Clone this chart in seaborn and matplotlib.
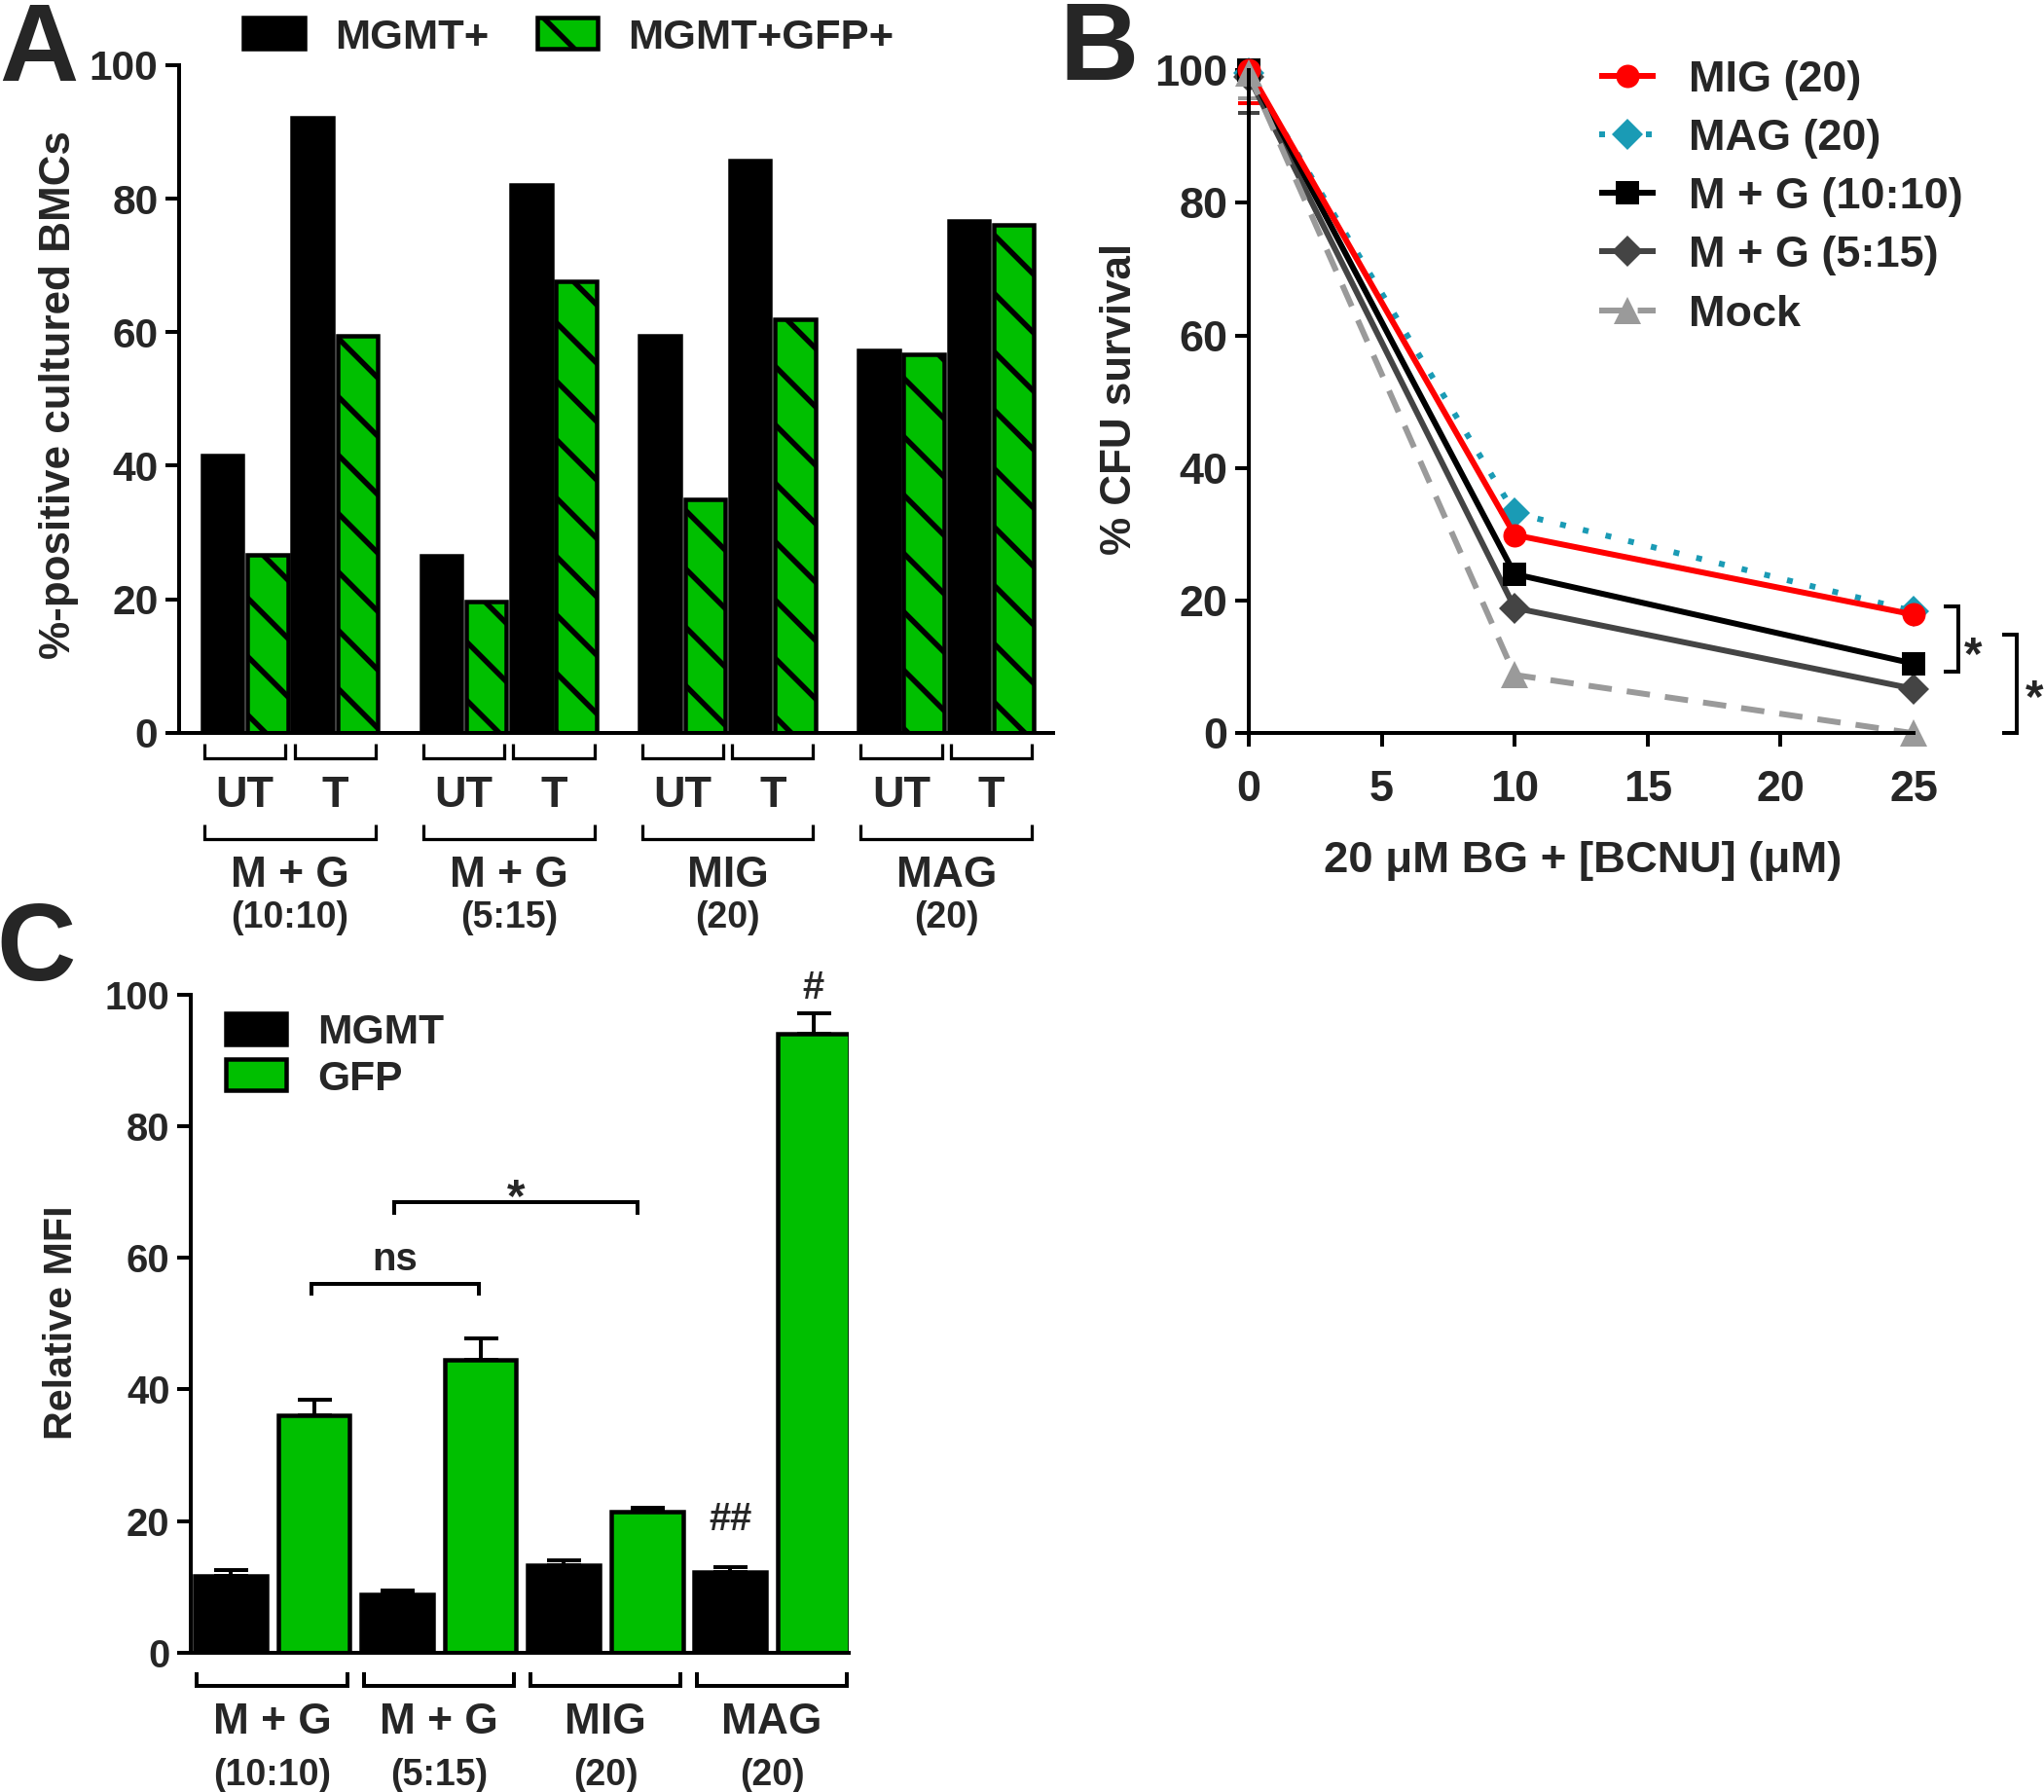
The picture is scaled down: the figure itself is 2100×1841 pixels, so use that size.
import numpy as np
import pandas as pd
import matplotlib
matplotlib.use("Agg")
import matplotlib.pyplot as plt
import seaborn as sns
from matplotlib.patches import Rectangle
from matplotlib.lines import Line2D
from matplotlib.colors import to_rgba
from matplotlib.transforms import blended_transform_factory, offset_copy

# ---------------- data ----------------
# Panel A: %-positive cultured BMCs
a_constructs = ["M + G", "M + G", "MIG", "MAG"]
a_ratios = ["(10:10)", "(5:15)", "(20)", "(20)"]
a_treatments = ["UT", "T"]
a_series = ["MGMT+", "MGMT+GFP+"]
a_mgmt = [41.5, 92.1, 26.5, 82.0, 59.5, 85.7, 57.3, 76.7]
a_mgmt_gfp = [26.6, 59.5, 19.7, 67.6, 35.0, 61.9, 56.7, 76.1]
a_yticks = [0, 20, 40, 60, 80, 100]

# Panel B: % CFU survival
b_dose = [0, 10, 25]
b_series = ["MIG (20)", "MAG (20)", "M + G (10:10)", "M + G (5:15)", "Mock"]
b_mig = [100.0, 29.9, 17.9]
b_mag = [99.5, 33.2, 18.4]
b_mg1010 = [100.0, 24.0, 10.5]
b_mg515 = [99.0, 18.9, 6.7]
b_mock = [99.5, 8.8, 0.0]
b_err_dose0 = [5.0, 0.0, 0.0, 5.5, 3.7]   # lower error at dose 0, same order as b_series
b_xticks = [0, 5, 10, 15, 20, 25]
b_yticks = [0, 20, 40, 60, 80, 100]

# Panel C: relative MFI
c_constructs = ["M + G", "M + G", "MIG", "MAG"]
c_ratios = ["(10:10)", "(5:15)", "(20)", "(20)"]
c_series = ["MGMT", "GFP"]
c_mgmt = [11.7, 8.8, 13.3, 12.2]
c_mgmt_err = [0.9, 0.6, 0.7, 0.8]
c_gfp = [36.1, 44.5, 21.4, 94.1]
c_gfp_err = [2.3, 3.3, 0.7, 3.0]
c_yticks = [0, 20, 40, 60, 80, 100]

# ---------------- style ----------------
BLACK = "#000000"
GREEN = "#00BF00"
TEAL = "#1A9BB5"
RED = "#FF0000"
DGRAY = "#444444"
LGRAY = "#9A9A9A"

sns.set_style("ticks")
plt.rcParams['font.family'] = ['Liberation Sans', 'DejaVu Sans']
plt.rcParams['font.weight'] = 'bold'
plt.rcParams['axes.labelweight'] = 'bold'
plt.rcParams['hatch.linewidth'] = 2.2
plt.rcParams['hatch.color'] = 'black'
plt.rcParams['axes.linewidth'] = 1.6

W, H, DPI = 2100, 1841, 180
PT = DPI / 72.0
fig = plt.figure(figsize=(W / DPI, H / DPI), dpi=DPI)
fig.patch.set_facecolor("white")


def add_ax(l, t, r, b):
    return fig.add_axes([l / W, 1 - b / H, (r - l) / W, (b - t) / H])


def ftext(x, yc, s, size, ha='left', cap=0.358, **kw):
    fig.text(x / W, 1 - (yc + cap * size * PT) / H, s, fontsize=size, ha=ha,
             va='baseline', fontweight='bold', **kw)


def vlabel(x, y, s, size):
    fig.text(x / W, 1 - y / H, s, fontsize=size, rotation=90, ha='center',
             va='center', fontweight='bold')


def style_axes(ax, size):
    for s in ['top', 'right']:
        ax.spines[s].set_visible(False)
    for s in ['left', 'bottom']:
        ax.spines[s].set_linewidth(1.6)
        ax.spines[s].set_color('black')
    ax.tick_params(axis='both', direction='out', length=5.6, width=1.6,
                   color='black', labelsize=size, pad=3)
    ax.set_facecolor('none')


def ctext(ax, tr, x, y, s, size, cap=0.358):
    t = offset_copy(tr, fig=fig, x=0, y=-cap * size, units='points')
    ax.text(x, y, s, transform=t, fontsize=size, ha='center', va='baseline',
            fontweight='bold', clip_on=False)


def bracket_down(ax, tr, x0, x1, ybot, ytop, lw):
    ax.plot([x0, x0, x1, x1], [ytop, ybot, ybot, ytop], transform=tr, color='k',
            lw=lw, clip_on=False, solid_joinstyle='miter', solid_capstyle='butt')


def bars_of(ax, color):
    crgb = np.array(to_rgba(color)[:3])
    return sorted([p for p in ax.patches
                   if np.allclose(np.array(p.get_facecolor()[:3]), crgb, atol=0.03)],
                  key=lambda p: p.get_x())


# ================= Panel A =================
axA = add_ax(184, 67, 1082, 752.7)
G = 2.43
pair_pos = [g * G + t for g in range(4) for t in range(2)]
dfA = pd.DataFrame({
    "pos": pair_pos * 2,
    "value": a_mgmt + a_mgmt_gfp,
    "series": [a_series[0]] * 8 + [a_series[1]] * 8,
})
sns.barplot(data=dfA, x="pos", y="value", hue="series", hue_order=a_series,
            palette=[BLACK, GREEN], saturation=1, native_scale=True, width=1.0, gap=0.1,
            edgecolor='black', linewidth=1.8, errorbar=None, legend=False, ax=axA)
for p in bars_of(axA, GREEN):
    p.set_hatch('\\')
axA.set_xlim(-0.732, 8.976)
axA.set_ylim(0, 100)
axA.set_yticks(a_yticks)
axA.set_xticks([])
axA.set_xlabel("")
axA.set_ylabel("")
style_axes(axA, 17)
trA = blended_transform_factory(axA.transData, axA.transAxes)
for g in range(4):
    for t in range(2):
        c = g * G + t
        bracket_down(axA, trA, c - 0.45, c + 0.45, -0.0384, -0.0165, 1.3)
        ctext(axA, trA, c, -0.0875, a_treatments[t], 18)
    gc = g * G + 0.5
    bracket_down(axA, trA, g * G - 0.45, g * G + 1.45, -0.159, -0.137, 1.3)
    ctext(axA, trA, gc, -0.2075, a_constructs[g], 17.7)
    ctext(axA, trA, gc, -0.273, a_ratios[g], 15)

vlabel(61, 406, "%-positive cultured BMCs", 17.6)
# legend A
fig.add_artist(Rectangle((250 / W, 1 - 50 / H), 63 / W, 32 / H, transform=fig.transFigure,
                         facecolor=BLACK, edgecolor='black', lw=1.8))
fig.add_artist(Rectangle((552 / W, 1 - 50 / H), 62 / W, 32 / H, transform=fig.transFigure,
                         facecolor=GREEN, edgecolor='black', lw=1.8, hatch='\\'))
ftext(344, 34, a_series[0], 17.4)
ftext(645, 34, a_series[1], 17.4)

# ================= Panel B =================
axB = add_ax(1283, 72, 1966, 753.3)
b_values = dict(zip(b_series, [b_mig, b_mag, b_mg1010, b_mg515, b_mock]))
b_err = dict(zip(b_series, b_err_dose0))
b_styles = {
    "MIG (20)": dict(color=RED, marker='o', ms=9.6, ls='-'),
    "MAG (20)": dict(color=TEAL, marker='D', ms=9.2, ls=(0, (1, 3))),
    "M + G (10:10)": dict(color=BLACK, marker='s', ms=9.8, ls='-'),
    "M + G (5:15)": dict(color=DGRAY, marker='D', ms=9.2, ls='-'),
    "Mock": dict(color=LGRAY, marker='^', ms=11, ls=(0, (4, 2.6))),
}
draw_order = ["MAG (20)", "M + G (5:15)", "M + G (10:10)", "MIG (20)", "Mock"]
for name in draw_order:
    st = b_styles[name]
    vals = b_values[name]
    if b_err[name] > 0:
        cont = axB.errorbar([b_dose[0]], [vals[0]], yerr=[[b_err[name]], [0]], fmt='none',
                            ecolor=st['color'], elinewidth=1.6, capsize=4.4, capthick=1.6,
                            zorder=1.8)
        for ch in cont.get_children():
            ch.set_clip_on(False)
    sns.lineplot(x=b_dose, y=vals, ax=axB, color=st['color'], marker=st['marker'],
                 markersize=st['ms'], linestyle=st['ls'], linewidth=2.4,
                 markeredgewidth=0, errorbar=None, legend=False, clip_on=False)
axB.set_xlim(0, 25)
axB.set_ylim(0, 100)
axB.set_xticks(b_xticks)
axB.set_yticks(b_yticks)
axB.set_xlabel("")
axB.set_ylabel("")
style_axes(axB, 18)
axB.tick_params(axis='x', pad=9.6)
# significance brackets (right side)
for xv, y0, y1, xt in [(26.67, 19.1, 9.3, 26.12), (28.89, 14.9, 0.0, 28.34)]:
    axB.plot([xt, xv, xv, xt], [y0, y0, y1, y1], color='k', lw=1.6, clip_on=False,
             solid_joinstyle='miter', solid_capstyle='butt')
ctext(axB, axB.transData, 27.25, 13.7, "*", 19, cap=0.58)
ctext(axB, axB.transData, 29.55, 7.3, "*", 19, cap=0.58)

vlabel(1151, 410, "% CFU survival", 17.6)
ftext(1626, 880, "20 \u03bcM BG + [BCNU] (\u03bcM)", 18.2, ha='center')
# legend B
leg_rows = [77.5, 138, 198, 258, 319]
for name, yr in zip(b_series, leg_rows):
    st = b_styles[name]
    fig.add_artist(Line2D([1643 / W, 1701 / W], [1 - yr / H] * 2, transform=fig.transFigure,
                          color=st['color'], lw=2.4, linestyle=st['ls'],
                          solid_capstyle='butt'))
    fig.add_artist(Line2D([1672 / W], [1 - yr / H], transform=fig.transFigure,
                          color=st['color'], marker=st['marker'], markersize=st['ms'],
                          markeredgewidth=0, linestyle='none'))
    ftext(1735, yr, name, 18)

# ================= Panel C =================
axC = add_ax(196, 1021.7, 872, 1698)
c_keys = [f"{a} {b}" for a, b in zip(c_constructs, c_ratios)]
dfC = pd.DataFrame({
    "construct": c_keys * 2,
    "mfi": c_mgmt + c_gfp,
    "marker": [c_series[0]] * 4 + [c_series[1]] * 4,
})
sns.barplot(data=dfC, x="construct", y="mfi", hue="marker", hue_order=c_series,
            order=c_keys, palette=[BLACK, GREEN], saturation=1, width=1.0, gap=0.14,
            edgecolor='black', linewidth=1.8, errorbar=None, legend=False, ax=axC)
for color, errs in [(BLACK, c_mgmt_err), (GREEN, c_gfp_err)]:
    bars = bars_of(axC, color)
    xs = [p.get_x() + p.get_width() / 2 for p in bars]
    hs = [p.get_height() for p in bars]
    axC.errorbar(xs, hs, yerr=[[0] * len(errs), errs], fmt='none', ecolor='black',
                 elinewidth=1.6, capsize=7, capthick=1.6, zorder=0.9)
axC.set_xlim(-0.491, 3.462)
axC.set_ylim(0, 100)
axC.set_yticks(c_yticks)
axC.set_xticks([])
axC.set_xlabel("")
axC.set_ylabel("")
style_axes(axC, 16)
trC = blended_transform_factory(axC.transData, axC.transAxes)
for i in range(4):
    bracket_down(axC, trC, i - 0.453, i + 0.453, -0.050, -0.0296, 1.6)
    ctext(axC, trC, i, -0.0993, c_constructs[i], 17.7)
    ctext(axC, trC, i, -0.181, c_ratios[i], 15)
# comparison brackets
for x0, x1, yl, yt, lab, sz, cap, ylab in [
        (0.232, 1.24, 56.1, 54.2, "ns", 16, 0.26, 59.6),
        (0.731, 2.193, 68.5, 66.6, "*", 19, 0.58, 71.2)]:
    axC.plot([x0, x0, x1, x1], [yt, yl, yl, yt], color='k', lw=1.6, clip_on=False,
             solid_joinstyle='miter', solid_capstyle='butt')
    ctext(axC, axC.transData, (x0 + x1) / 2, ylab, lab, sz, cap=cap)
ctext(axC, axC.transData, 2.754, 20.7, "##", 16, cap=0.36)
ctext(axC, axC.transData, 3.246, 101.5, "#", 16, cap=0.36)

vlabel(63, 1359, "Relative MFI", 16.5)
# legend C
fig.add_artist(Rectangle((232 / W, 1 - 1073 / H), 62 / W, 32 / H, transform=fig.transFigure,
                         facecolor=BLACK, edgecolor='black', lw=1.8))
fig.add_artist(Rectangle((232 / W, 1 - 1120 / H), 62 / W, 32 / H, transform=fig.transFigure,
                         facecolor=GREEN, edgecolor='black', lw=1.8))
ftext(326, 1057, c_series[0], 17)
ftext(326, 1105, c_series[1], 17)

# panel letters
fig.text(-1 / W, 1 - 83 / H, "A", fontsize=45, fontweight='bold', ha='left', va='baseline')
fig.text(1089 / W, 1 - 82 / H, "B", fontsize=45, fontweight='bold', ha='left', va='baseline')
fig.text(-4 / W, 1 - 1007 / H, "C", fontsize=45, fontweight='bold', ha='left', va='baseline')

fig.savefig("out.png", dpi=DPI, facecolor='white')
